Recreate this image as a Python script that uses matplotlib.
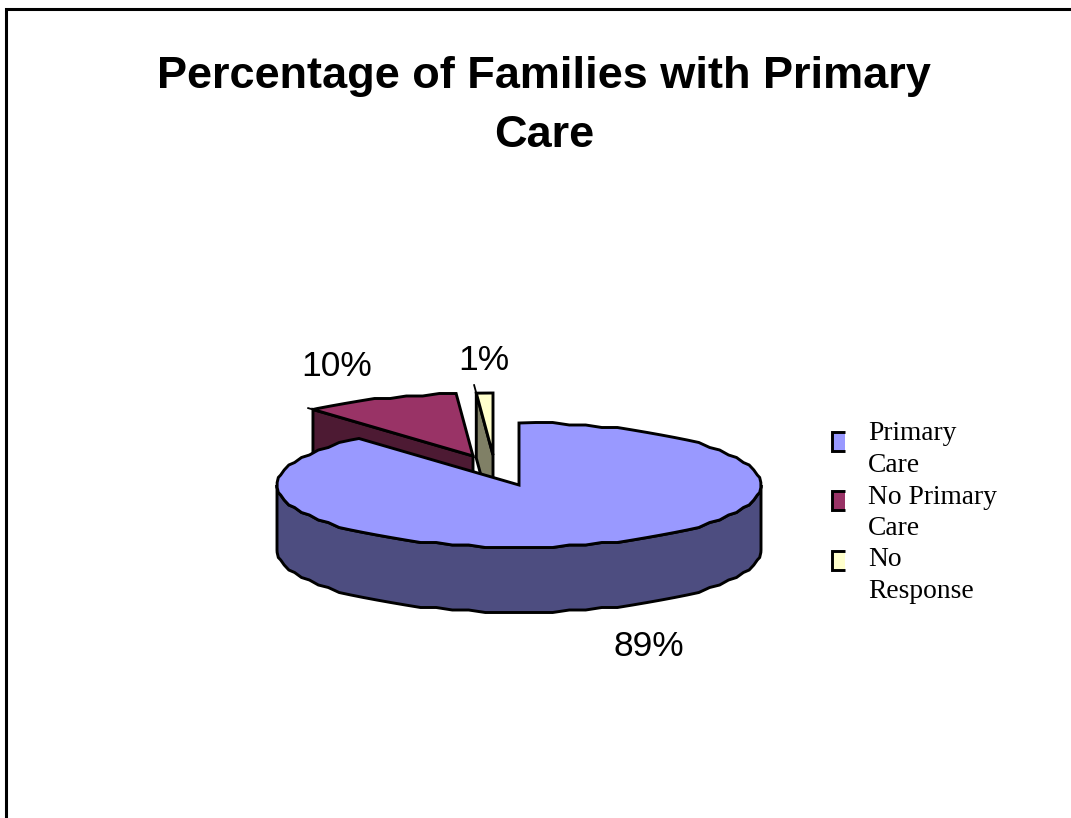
"""
Percentage of Families with Primary Care - old style 3D pie with exploded slices
"""

import numpy as np
import matplotlib
matplotlib.use('Agg')
import matplotlib.pyplot as plt
from matplotlib.patches import Polygon, Rectangle

title = 'Percentage of Families with Primary\nCare'
labels = ['Primary\nCare', 'No Primary\nCare', 'No\nResponse']
values = [88.5, 10.4, 1.1]  # label text says 89/10/1, slice edges sit closer to these
pct_labels = ['89%', '10%', '1%']
colors = ['#9999FF', '#993366', '#FFFFCC']
side_colors = ['#4D4D80', '#4D1A33', '#808066']

# pie geometry in pixels
cx, cy = 519, 485
rx, ry = 242, 62
depth = 65
offsets = [(0, 0), (-46, -29), (-26, -30)]
spikes = [0, 0.03, 0.13]


def rim(t0, t1, off=(0, 0)):
    # clockwise from 12 o'clock, a fixed coarse angle grid and rounded y give the jagged edge
    grid = np.arange(np.ceil(t0 / 4) * 4, t1, 4.0)
    grid = grid[grid > t0]
    t = np.radians(np.concatenate([[t0], grid, [t1]]))
    y = cy - ry * np.cos(t)
    x = cx + rx * np.sin(t)
    y[1:-1] = np.round(y[1:-1] / 2.5) * 2.5
    return np.column_stack([x, y]) + off


def poly(ax, pts, color, z):
    ax.add_patch(Polygon(pts, closed=True, facecolor=color, edgecolor='black',
                         linewidth=2.1, joinstyle='miter', zorder=z))


fig = plt.figure(figsize=(10.71, 8.18), dpi=100)
ax = fig.add_axes([0, 0, 1, 1])
ax.set_xlim(0, 1071)
ax.set_ylim(818, 0)
ax.axis('off')

# slice angles from the values
edges = np.concatenate([[0], np.cumsum(values)]) / sum(values) * 360
# the two exploded slices go first, main slice covers them
for i in [2, 1]:
    off = offsets[i]
    apex = np.array([cx + off[0], cy + off[1]])
    top = rim(edges[i], edges[i + 1], off)
    start = top[0]
    poly(ax, [apex, start, start + [0, depth], apex + [0, depth]], side_colors[i], 3 - i)
    poly(ax, np.vstack([[apex], top]), colors[i], 3 - i)
    tip = start + (start - apex) * spikes[i]
    ax.plot([start[0], tip[0]], [start[1], tip[1]], color='black', linewidth=1.3, zorder=3 - i)

# main slice: front wall then top
front = rim(90, 270)
wall = np.vstack([front, (front + [0, depth])[::-1]])
poly(ax, wall, side_colors[0], 5)
top = rim(edges[0], edges[1])
poly(ax, np.vstack([[[cx, cy]], top]), colors[0], 6)

ax.text(544, 106, title, ha='center', va='center', fontsize=32.5, fontweight='bold',
        family='Liberation Sans', linespacing=1.54, color='black')

ax.text(649, 647, pct_labels[0], ha='center', va='center', fontsize=25.5, family='Liberation Sans')
ax.text(337, 367, pct_labels[1], ha='center', va='center', fontsize=25.5, family='Liberation Sans')
ax.text(484, 361, pct_labels[2], ha='center', va='center', fontsize=25.5, family='Liberation Sans')

# legend, wrapped text is cut off at the bottom like the original
key_y = [432, 491, 551]
text_y = [434, 497, 560]
clip = Rectangle((860, 415), 150, 185, transform=ax.transData)
for ky, ty, lab, col in zip(key_y, text_y, labels, colors):
    ax.add_patch(Rectangle((832, ky), 13, 19, facecolor=col, edgecolor='none', zorder=7))
    ax.plot([845, 832, 832, 845], [ky, ky, ky + 19, ky + 19], color='black', linewidth=2.1,
            solid_joinstyle='miter', solid_capstyle='butt', zorder=8)
    for j, line in enumerate(lab.split('\n')):
        t = ax.text(868, ty + j * 31.7, line, ha='left', va='center', fontsize=19.8, family='Liberation Serif')
        t.set_clip_path(clip)

# frame of the slide, runs off the right and bottom of the image
ax.plot([6, 6, 1071], [818, 9, 9], color='black', linewidth=2.2, solid_joinstyle='miter')

fig.savefig('out.png', dpi=100, facecolor='white')
